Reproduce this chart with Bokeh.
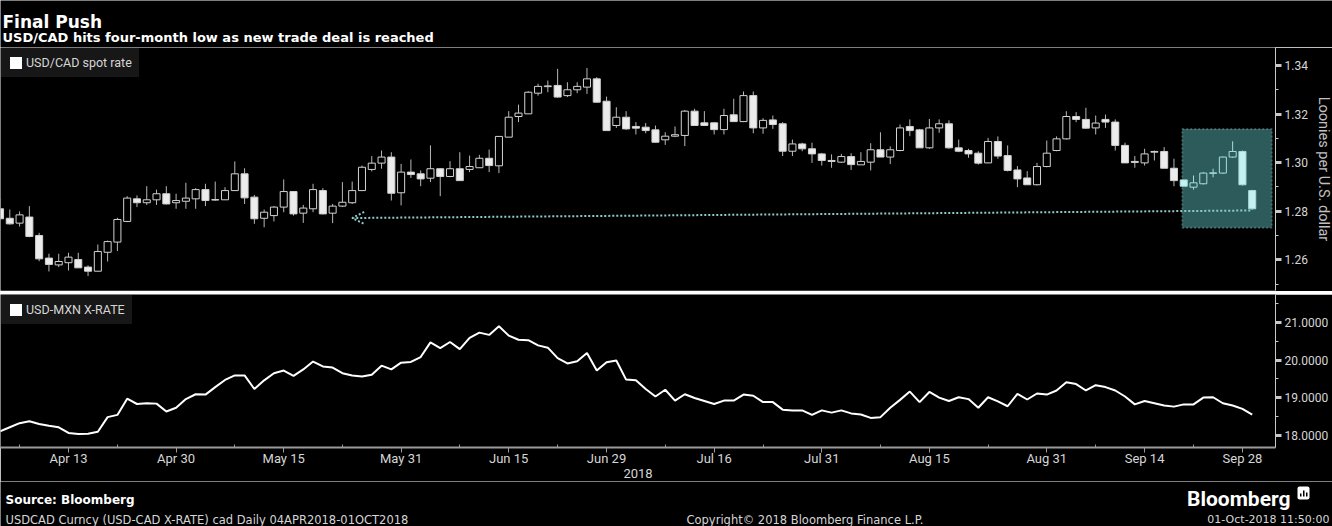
import numpy as np
import pandas as pd
from bokeh.plotting import figure
from bokeh.models import (Range1d, FixedTicker, Legend, LegendItem, BoxAnnotation,
                          Arrow, OpenHead, Label, ColumnDataSource, NumeralTickFormatter)
from bokeh.layouts import column
from bokeh.embed import file_html
from bokeh.resources import INLINE

# ---------------- data ----------------
dates = pd.bdate_range("2018-04-04", "2018-10-01")

cad_open = [1.2810, 1.2771, 1.2751, 1.2776, 1.2700, 1.2607, 1.2579, 1.2588, 1.2601, 1.2570,
            1.2553, 1.2631, 1.2673, 1.2758, 1.2851, 1.2835, 1.2847, 1.2872, 1.2835, 1.2841,
            1.2851, 1.2889, 1.2846, 1.2847, 1.2885, 1.2954, 1.2858, 1.2771, 1.2782, 1.2817,
            1.2881, 1.2792, 1.2810, 1.2885, 1.2792, 1.2821, 1.2835, 1.2885, 1.2972, 1.2998,
            1.3023, 1.2876, 1.2961, 1.2954, 1.2936, 1.2975, 1.2943, 1.2975, 1.2972, 1.2979,
            1.3018, 1.2987, 1.3105, 1.3190, 1.3201, 1.3286, 1.3313, 1.3318, 1.3276, 1.3300,
            1.3311, 1.3345, 1.3253, 1.3153, 1.3187, 1.3149, 1.3146, 1.3135, 1.3094, 1.3109,
            1.3112, 1.3212, 1.3164, 1.3164, 1.3136, 1.3197, 1.3169, 1.3276, 1.3143, 1.3176,
            1.3160, 1.3047, 1.3077, 1.3057, 1.3036, 1.3009, 1.3002, 1.3025, 1.2991, 1.3002,
            1.3053, 1.3023, 1.3050, 1.3149, 1.3135, 1.3061, 1.3143, 1.3160, 1.3061, 1.3050,
            1.3039, 1.2999, 1.3087, 1.3029, 1.2970, 1.2937, 1.2909, 1.2984, 1.3050, 1.3098,
            1.3190, 1.3178, 1.3143, 1.3178, 1.3167, 1.3071, 1.3005, 1.2999, 1.3043, 1.3046,
            1.2977, 1.2929, 1.2899, 1.2913, 1.2956, 1.2957, 1.3023, 1.3046, 1.2885]
cad_high = [1.2851, 1.2807, 1.2799, 1.2821, 1.2711, 1.2625, 1.2625, 1.2629, 1.2629, 1.2577,
            1.2663, 1.2679, 1.2773, 1.2862, 1.2865, 1.2903, 1.2889, 1.2903, 1.2872, 1.2917,
            1.2895, 1.2913, 1.2922, 1.2899, 1.3005, 1.2977, 1.2867, 1.2807, 1.2821, 1.2931,
            1.2882, 1.2826, 1.2913, 1.2895, 1.2830, 1.2920, 1.2922, 1.2988, 1.3027, 1.3050,
            1.3043, 1.2995, 1.3013, 1.2968, 1.3071, 1.2977, 1.3006, 1.3043, 1.3029, 1.3032,
            1.3054, 1.3108, 1.3212, 1.3239, 1.3294, 1.3325, 1.3338, 1.3386, 1.3331, 1.3331,
            1.3390, 1.3352, 1.3272, 1.3228, 1.3212, 1.3167, 1.3163, 1.3153, 1.3125, 1.3149,
            1.3217, 1.3222, 1.3212, 1.3167, 1.3222, 1.3263, 1.3293, 1.3293, 1.3183, 1.3194,
            1.3167, 1.3095, 1.3082, 1.3082, 1.3040, 1.3034, 1.3036, 1.3039, 1.3043, 1.3080,
            1.3125, 1.3067, 1.3157, 1.3178, 1.3139, 1.3180, 1.3178, 1.3174, 1.3095, 1.3057,
            1.3047, 1.3102, 1.3108, 1.3071, 1.2986, 1.2965, 1.2999, 1.3091, 1.3108, 1.3212,
            1.3208, 1.3226, 1.3194, 1.3198, 1.3178, 1.3082, 1.3027, 1.3057, 1.3050, 1.3064,
            1.3016, 1.2929, 1.2947, 1.2961, 1.2975, 1.3025, 1.3088, 1.3050, 1.2888]
cad_low = [1.2762, 1.2745, 1.2737, 1.2693, 1.2594, 1.2552, 1.2570, 1.2556, 1.2566, 1.2533,
           1.2552, 1.2593, 1.2636, 1.2755, 1.2817, 1.2826, 1.2826, 1.2828, 1.2810, 1.2810,
           1.2810, 1.2821, 1.2843, 1.2846, 1.2884, 1.2830, 1.2748, 1.2734, 1.2758, 1.2796,
           1.2782, 1.2752, 1.2796, 1.2787, 1.2751, 1.2817, 1.2830, 1.2883, 1.2964, 1.2975,
           1.2844, 1.2824, 1.2937, 1.2903, 1.2920, 1.2862, 1.2940, 1.2926, 1.2961, 1.2979,
           1.2961, 1.2957, 1.3105, 1.3167, 1.3201, 1.3276, 1.3290, 1.3267, 1.3270, 1.3286,
           1.3283, 1.3246, 1.3132, 1.3143, 1.3135, 1.3116, 1.3121, 1.3082, 1.3073, 1.3105,
           1.3068, 1.3153, 1.3153, 1.3116, 1.3116, 1.3167, 1.3167, 1.3121, 1.3119, 1.3139,
           1.3027, 1.3027, 1.3047, 1.2999, 1.2988, 1.2979, 1.2999, 1.2970, 1.2991, 1.2968,
           1.3023, 1.2994, 1.3047, 1.3109, 1.3061, 1.3057, 1.3123, 1.3057, 1.3043, 1.3020,
           1.2992, 1.2998, 1.3016, 1.2964, 1.2899, 1.2909, 1.2906, 1.2981, 1.3047, 1.3095,
           1.3167, 1.3139, 1.3116, 1.3143, 1.3050, 1.2999, 1.2979, 1.2988, 1.3009, 1.2977,
           1.2903, 1.2903, 1.2889, 1.2910, 1.2940, 1.2954, 1.3020, 1.2906, 1.2806]
cad_close = [1.2769, 1.2748, 1.2785, 1.2696, 1.2604, 1.2581, 1.2593, 1.2611, 1.2567, 1.2553,
             1.2634, 1.2675, 1.2766, 1.2854, 1.2835, 1.2847, 1.2872, 1.2830, 1.2844, 1.2854,
             1.2889, 1.2844, 1.2848, 1.2885, 1.2954, 1.2855, 1.2769, 1.2796, 1.2817, 1.2881,
             1.2789, 1.2813, 1.2889, 1.2789, 1.2821, 1.2837, 1.2885, 1.2981, 1.2998, 1.3023,
             1.2874, 1.2961, 1.2951, 1.2933, 1.2975, 1.2943, 1.2975, 1.2926, 1.2984, 1.3018,
             1.2988, 1.3108, 1.3187, 1.3204, 1.3290, 1.3314, 1.3316, 1.3270, 1.3300, 1.3314,
             1.3345, 1.3249, 1.3132, 1.3187, 1.3139, 1.3142, 1.3132, 1.3084, 1.3109, 1.3115,
             1.3212, 1.3153, 1.3153, 1.3136, 1.3194, 1.3169, 1.3276, 1.3143, 1.3174, 1.3157,
             1.3047, 1.3077, 1.3057, 1.3036, 1.3009, 1.3005, 1.3025, 1.2992, 1.3005, 1.3053,
             1.3023, 1.3053, 1.3143, 1.3132, 1.3061, 1.3143, 1.3160, 1.3061, 1.3047, 1.3036,
             1.2998, 1.3087, 1.3027, 1.2968, 1.2933, 1.2909, 1.2984, 1.3039, 1.3098, 1.3190,
             1.3178, 1.3142, 1.3163, 1.3167, 1.3071, 1.2999, 1.3001, 1.3036, 1.3046, 1.2977,
             1.2926, 1.2903, 1.2917, 1.2957, 1.2958, 1.3023, 1.3046, 1.2909, 1.2810]

mxn_rate = [18.10, 18.21, 18.32, 18.37, 18.30, 18.25, 18.21, 18.06, 18.03, 18.04,
            18.09, 18.48, 18.54, 18.97, 18.83, 18.85, 18.84, 18.63, 18.73, 18.96,
            19.09, 19.08, 19.28, 19.47, 19.59, 19.59, 19.23, 19.46, 19.65, 19.72,
            19.58, 19.75, 19.96, 19.83, 19.80, 19.65, 19.59, 19.56, 19.61, 19.85,
            19.75, 19.93, 19.95, 20.08, 20.47, 20.32, 20.48, 20.29, 20.59, 20.73,
            20.67, 20.90, 20.65, 20.54, 20.53, 20.39, 20.33, 20.05, 19.91, 19.97,
            20.19, 19.72, 19.94, 19.99, 19.48, 19.46, 19.23, 19.03, 19.21, 18.92,
            19.09, 18.99, 18.91, 18.83, 18.92, 18.92, 19.08, 19.05, 18.88, 18.88,
            18.68, 18.66, 18.66, 18.54, 18.66, 18.60, 18.66, 18.58, 18.55, 18.46,
            18.48, 18.73, 18.94, 19.16, 18.88, 19.15, 19.00, 18.91, 19.01, 18.96,
            18.73, 19.01, 18.90, 18.77, 19.10, 18.95, 19.11, 19.08, 19.19, 19.41,
            19.36, 19.19, 19.33, 19.28, 19.19, 19.03, 18.82, 18.91, 18.85, 18.79,
            18.76, 18.82, 18.82, 19.00, 19.01, 18.85, 18.79, 18.70, 18.55]

tick_dates = ["2018-04-13", "2018-04-30", "2018-05-15", "2018-05-31", "2018-06-15", "2018-06-29",
              "2018-07-16", "2018-07-31", "2018-08-15", "2018-08-31", "2018-09-14", "2018-09-28"]
tick_labels = ["Apr 13", "Apr 30", "May 15", "May 31", "Jun 15", "Jun 29",
               "Jul 16", "Jul 31", "Aug 15", "Aug 31", "Sep 14", "Sep 28"]
minor_dates = ["2018-04-06", "2018-04-20", "2018-05-08", "2018-05-23", "2018-06-08", "2018-06-22",
               "2018-07-09", "2018-07-23", "2018-08-08", "2018-08-23", "2018-09-07", "2018-09-21"]
cad_ticks = [1.26, 1.28, 1.30, 1.32, 1.34]
cad_minor = [1.25, 1.27, 1.29, 1.31, 1.33]
mxn_ticks = [18, 19, 20, 21]
mxn_minor = [18.5, 19.5, 20.5, 21.5]
highlight_start = "2018-09-20"

# ---------------- styling constants ----------------
FONT = "Roboto"
BG = "black"
AX = "#c8c8c8"
TXT = "#d6d6d6"
CYAN = "#c6f1f1"
CYAN_LINE = "#a6dede"
LEG_BG = "#171717"
W = 1332
FRAME_W = 1275
RIGHT = W - FRAME_W
NAN = float("nan")

idx = {d.strftime("%Y-%m-%d"): i for i, d in enumerate(dates)}
major_idx = [idx[d] for d in tick_dates]
minor_idx = [idx[d] for d in minor_dates]
xs = np.arange(len(dates))

o = np.array(cad_open); hh = np.array(cad_high); ll = np.array(cad_low); cc = np.array(cad_close)
up = cc >= o
hl = np.array(dates >= pd.Timestamp(highlight_start))
src = ColumnDataSource(dict(
    x=xs, o=o, h=hh, l=ll, c=cc,
    bt=np.maximum(o, cc), bb=np.minimum(o, cc),
    fill=[(CYAN if k else "#ececec") for k in hl],
    falpha=[0.0 if u else 1.0 for u in up],
    lc=[(CYAN_LINE if k else "#d2d2d2") for k in hl],
    wc=[(CYAN_LINE if k else "#b8b8b8") for k in hl],
))

x_range = Range1d(0.05, 130.38)


def blank(h, yr_end):
    p = figure(frame_width=W, frame_height=h, x_range=Range1d(0, W), y_range=Range1d(yr_end, 0),
               x_axis_location=None, y_axis_location=None, output_backend="svg",
               toolbar_location=None, background_fill_color=BG, border_fill_color=BG,
               outline_line_color=None, min_border_left=0, min_border_right=0,
               min_border_top=0, min_border_bottom=0)
    p.grid.visible = False
    return p


def legend_for(p, label):
    swatch = p.quad(left=[NAN], right=[NAN], top=[NAN], bottom=[NAN],
                    fill_color="white", line_color="white", line_width=0)
    leg = Legend(items=[LegendItem(label=label, renderers=[swatch])],
                 location="top_left", margin=1, padding=6, glyph_width=15, glyph_height=15,
                 label_standoff=3, background_fill_color=LEG_BG, background_fill_alpha=1.0,
                 border_line_color=LEG_BG, border_line_width=1, label_text_font=FONT,
                 label_text_font_size="12.5px", label_text_color=TXT, label_height=15)
    p.add_layout(leg)


def style_right_axis(ax, ticks, minor, fmt):
    ax.ticker = FixedTicker(ticks=ticks, minor_ticks=minor)
    ax.formatter = NumeralTickFormatter(format=fmt)
    ax.axis_line_color = AX
    ax.major_tick_line_color = AX
    ax.major_tick_line_width = 3
    ax.major_tick_out = 6
    ax.major_tick_in = 0
    ax.minor_tick_line_color = AX
    ax.minor_tick_out = 3
    ax.minor_tick_in = 0
    ax.major_label_standoff = 3
    ax.major_label_text_font = FONT
    ax.major_label_text_font_size = "12px"
    ax.major_label_text_color = TXT


# ---------------- header ----------------
header = blank(47, 47)
header.add_layout(Label(x=2, y=21, text="Final Push", text_font="DejaVu Sans",
                        text_font_style="bold", text_font_size="17px", text_color="white",
                        text_baseline="alphabetic"))
header.add_layout(Label(x=2, y=37, text="USD/CAD hits four-month low as new trade deal is reached",
                        text_font="DejaVu Sans", text_font_style="bold", text_font_size="13px",
                        text_color="white", text_baseline="alphabetic"))

# ---------------- top panel (candles) ----------------
top = figure(frame_width=FRAME_W, frame_height=243, x_range=x_range,
             y_range=Range1d(1.24736, 1.34741), x_axis_location=None, y_axis_location="right",
             output_backend="svg", toolbar_location=None, background_fill_color=BG,
             border_fill_color=BG, outline_line_color=None, min_border_left=0,
             min_border_right=RIGHT, min_border_top=0, min_border_bottom=1)
top.grid.visible = False

top.add_layout(BoxAnnotation(left=120.85, right=130.0, bottom=1.2732, top=1.3139,
                             fill_color="#2d5b5b", fill_alpha=1.0, line_color=CYAN_LINE,
                             line_width=2, line_dash="2 2", level="underlay"))

top.segment(x0="x", y0="bt", x1="x", y1="h", line_color="wc", line_width=1, source=src)
top.segment(x0="x", y0="bb", x1="x", y1="l", line_color="wc", line_width=1, source=src)
top.vbar(x="x", top="bt", bottom="bb", width=0.72, fill_color="fill", fill_alpha="falpha",
         line_color="lc", line_width=1, source=src)

top.add_layout(Arrow(end=OpenHead(size=12, line_color="#8fcaca", line_width=2, line_dash="2 2"),
                     x_start=127.8, y_start=1.2803, x_end=36.0, y_end=1.2772,
                     line_color="#8fcaca", line_width=2, line_dash="2 2"))

legend_for(top, "USD/CAD spot rate")

ya = top.yaxis[0]
style_right_axis(ya, cad_ticks, cad_minor, "0.00")
ya.axis_label = "Loonies per U.S. dollar"
ya.axis_label_text_font = FONT
ya.axis_label_text_font_size = "14.5px"
ya.axis_label_text_font_style = "normal"
ya.axis_label_text_color = "#c0c0c0"
ya.axis_label_standoff = 4

# ---------------- separator ----------------
sep = figure(frame_width=W, frame_height=3, x_range=Range1d(0, 1), y_range=Range1d(0, 1),
             x_axis_location=None, y_axis_location=None, output_backend="svg",
             toolbar_location=None, background_fill_color="#9a9a9a", border_fill_color="#9a9a9a",
             outline_line_color=None, min_border_left=0, min_border_right=0,
             min_border_top=0, min_border_bottom=0)
sep.grid.visible = False

# ---------------- bottom panel (MXN line) ----------------
bot = figure(frame_width=FRAME_W, frame_height=153, x_range=x_range,
             y_range=Range1d(17.672, 21.745), x_axis_location="below", y_axis_location="right",
             output_backend="svg", toolbar_location=None, background_fill_color=BG,
             border_fill_color=BG, outline_line_color=None, min_border_left=0,
             min_border_right=RIGHT, min_border_top=0, min_border_bottom=34)
bot.grid.visible = False
bot.line(x=xs, y=mxn_rate, line_color="white", line_width=2)

legend_for(bot, "USD-MXN X-RATE")

yb = bot.yaxis[0]
style_right_axis(yb, mxn_ticks, mxn_minor, "0.0000")

xb = bot.xaxis[0]
xb.ticker = FixedTicker(ticks=major_idx, minor_ticks=minor_idx)
xb.major_label_overrides = {i: lab for i, lab in zip(major_idx, tick_labels)}
xb.axis_line_color = "#9a9a9a"
xb.axis_line_width = 2
xb.major_tick_line_color = "#9a9a9a"
xb.major_tick_out = 5
xb.major_tick_in = 0
xb.minor_tick_line_color = "#9a9a9a"
xb.minor_tick_in = 3
xb.minor_tick_out = 0
xb.major_label_standoff = -2
xb.major_label_text_font = FONT
xb.major_label_text_font_size = "13px"
xb.major_label_text_color = TXT
xb.axis_label = "2018"
xb.axis_label_text_font = FONT
xb.axis_label_text_font_size = "13px"
xb.axis_label_text_font_style = "normal"
xb.axis_label_text_color = TXT
xb.axis_label_standoff = 0

# ---------------- footer ----------------
footer = blank(45, 45)
footer.add_layout(Label(x=5, y=18, text="Source: Bloomberg", text_font="DejaVu Sans",
                        text_font_style="bold", text_font_size="12px", text_color="white",
                        text_baseline="alphabetic"))
footer.add_layout(Label(x=5, y=38, text="USDCAD Curncy (USD-CAD X-RATE) cad  Daily 04APR2018-01OCT2018",
                        text_font="DejaVu Sans", text_font_size="11.5px", text_color=TXT,
                        text_baseline="alphabetic"))
footer.add_layout(Label(x=686, y=38, text="Copyright\u00a9 2018 Bloomberg Finance L.P.",
                        text_font="DejaVu Sans", text_font_size="11.5px", text_color=TXT,
                        text_baseline="alphabetic"))
footer.add_layout(Label(x=1329, y=38, text="01-Oct-2018 11:50:00", text_font="DejaVu Sans",
                        text_font_size="11px", text_color=TXT, text_align="right",
                        text_baseline="alphabetic"))
footer.add_layout(Label(x=1290, y=17, text="Bloomberg", text_font=FONT, text_font_style="bold",
                        text_font_size="21px", text_color="white", text_align="right",
                        text_baseline="alphabetic"))
footer.add_layout(BoxAnnotation(left=1297, right=1309, top=5, bottom=18, fill_color="white",
                                fill_alpha=1.0, line_color=None, border_radius=2))
for bx0, btop in ((1299.5, 12), (1302.5, 9), (1305.5, 11)):
    footer.add_layout(BoxAnnotation(left=bx0, right=bx0 + 1.5, top=btop, bottom=15,
                                    fill_color="black", fill_alpha=1.0, line_color=None))

layout = column(header, top, sep, bot, footer, spacing=0)
open("out.html", "w").write(file_html(layout, INLINE))
